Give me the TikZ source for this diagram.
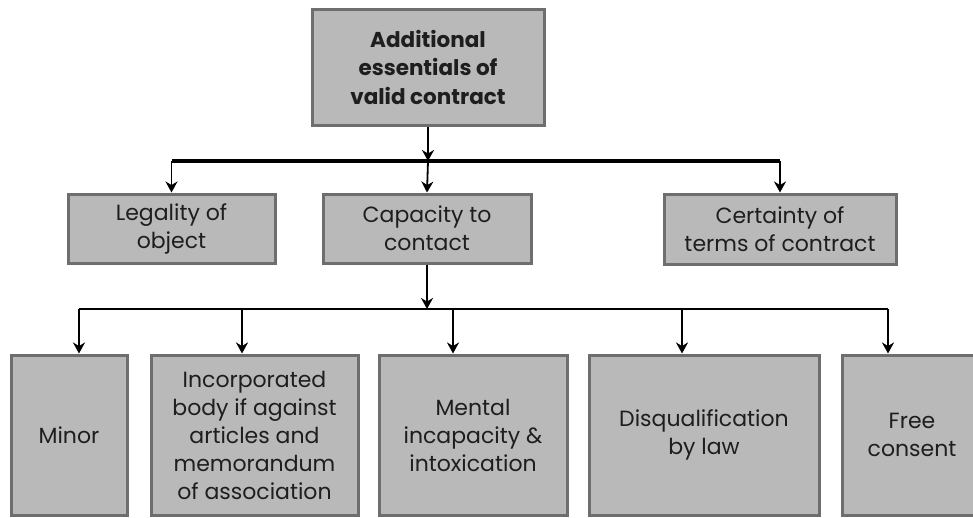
\documentclass[tikz,border=0pt]{standalone}
\usepackage{fontspec}
\setmainfont{Poppins}
\usetikzlibrary{arrows.meta}
\definecolor{boxfill}{HTML}{B9B9B9}
\definecolor{boxline}{HTML}{6E6E6E}
\definecolor{ink}{HTML}{1E1E1E}
\tikzset{
  box/.style={draw=boxline, fill=boxfill, line width=3pt, align=center,
    text=ink, inner sep=0pt, font=\fontsize{22}{28}\selectfont},
  bus/.style={line width=3.2pt, black},
  subbus/.style={line width=2.5pt, black},
  feed/.style={line width=1.8pt, black,
    -{Stealth[length=11pt,width=12pt,inset=3.5pt]}},
}
\begin{document}
\begin{tikzpicture}[x=1pt,y=-1pt]
\useasboundingbox (0,0) rectangle (973,517);
\clip (0,0) rectangle (973,517);

% root
\node[box, minimum width=232pt, minimum height=116pt,
      font=\fontsize{21.5}{28.5}\selectfont\bfseries] (root) at (428,67)
  {Additional\\essentials of\\valid contract};

% second row
\node[box, minimum width=207pt, minimum height=69pt] (legal) at (171.5,228.5)
  {Legality of\\object};
\node[box, minimum width=208pt, minimum height=69pt] (capa) at (427,228.5)
  {Capacity to\\contact};
\node[box, minimum width=232pt, minimum height=70pt] (cert) at (780,229)
  {Certainty of\\terms of contract};

% third row
\node[box, minimum width=116pt, minimum height=160pt] (minor) at (69,435)
  {Minor};
\node[box, minimum width=207pt, minimum height=160pt] (corp) at (254.5,435)
  {Incorporated\\body if against\\articles and\\memorandum\\of association};
\node[box, minimum width=188pt, minimum height=160pt] (mental) at (473,435)
  {Mental\\incapacity \&\\intoxication};
\node[box, minimum width=230pt, minimum height=160pt] (disq) at (704,435)
  {Disqualification\\by law};
\node[box, minimum width=140pt, minimum height=160pt] (free) at (912,435)
  {Free\\consent};

% upper bus
\coordinate (j1) at (root.south |- 0,161);
\draw[bus] (legal.north |- j1) -- (cert.north |- j1);
\draw[feed] (root.south) -- (j1);
\draw[feed] (legal.north |- j1) -- (legal.north);
\draw[feed] (j1) -- (capa.north);
\draw[feed] (cert.north |- j1) -- (cert.north);

% lower bus
\coordinate (j2) at (capa.south |- 0,309);
\coordinate (l1) at (79,309);
\coordinate (l2) at (242,309);
\coordinate (l3) at (453,309);
\coordinate (l4) at (682,309);
\coordinate (l5) at (888,309);
\draw[subbus] (l1) -- (l5);
\draw[feed] (capa.south) -- (j2);
\draw[feed] (l1) -- (l1 |- minor.north);
\draw[feed] (l2) -- (l2 |- corp.north);
\draw[feed] (l3) -- (l3 |- mental.north);
\draw[feed] (l4) -- (l4 |- disq.north);
\draw[feed] (l5) -- (l5 |- free.north);
\end{tikzpicture}
\end{document}
